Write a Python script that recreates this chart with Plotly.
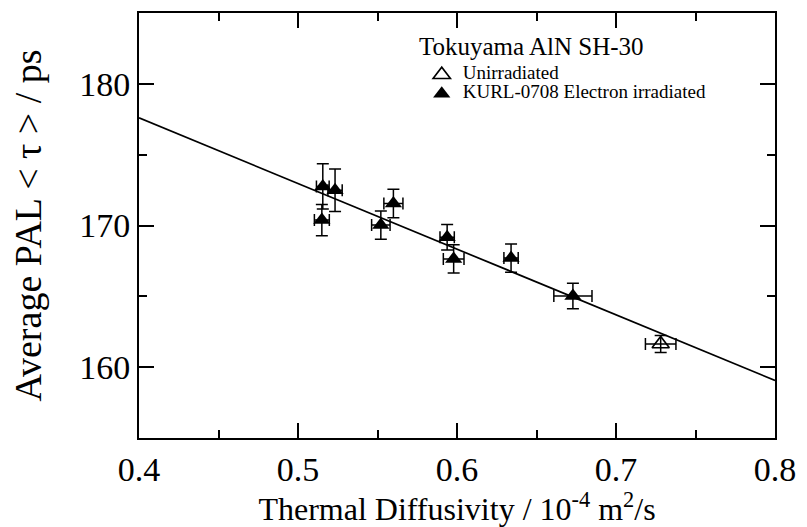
import plotly.graph_objects as go

# Electron-irradiated samples (KURL-0708)
irr_diffusivity = [0.5156, 0.5233, 0.5150, 0.5521, 0.5600, 0.5938, 0.5979, 0.6340, 0.6729]
irr_diffusivity_err = [0.0040, 0.0045, 0.0047, 0.0058, 0.0060, 0.0045, 0.0065, 0.0045, 0.0120]
irr_tau = [172.76, 172.48, 170.38, 170.03, 171.55, 169.17, 167.64, 167.70, 165.02]
irr_tau_err = [1.6, 1.5, 1.1, 1.0, 1.0, 0.9, 1.0, 1.0, 0.9]

# Unirradiated reference sample
unirr_diffusivity = [0.7281]
unirr_diffusivity_err = [0.0096]
unirr_tau = [161.64]
unirr_tau_err = [0.6]

# Linear fit through the data
fit_x = [0.4, 0.8]
fit_y = [177.6, 159.06]

SERIF = "Liberation Serif"


def entry(label):
    # legend rows stay compact: row height follows the legend font, text is enlarged
    return f'<span style="font-size:19px">{label}</span>'


fig = go.Figure()

fig.add_trace(go.Scatter(
    x=fit_x, y=fit_y, mode="lines",
    line=dict(color="black", width=1.7),
    showlegend=False, hoverinfo="skip",
))

fig.add_trace(go.Scatter(
    x=unirr_diffusivity, y=unirr_tau, mode="markers",
    name=entry("Unirradiated"),
    marker=dict(symbol="triangle-up-open", size=15, color="black",
                line=dict(width=1.6, color="black")),
    error_x=dict(type="data", array=unirr_diffusivity_err, color="black",
                 thickness=1.5, width=6),
    error_y=dict(type="data", array=unirr_tau_err, color="black",
                 thickness=1.5, width=6),
))

fig.add_trace(go.Scatter(
    x=irr_diffusivity, y=irr_tau, mode="markers",
    name=entry("KURL-0708 Electron irradiated"),
    marker=dict(symbol="triangle-up", size=15, color="black"),
    error_x=dict(type="data", array=irr_diffusivity_err, color="black",
                 thickness=1.5, width=6),
    error_y=dict(type="data", array=irr_tau_err, color="black",
                 thickness=1.5, width=6),
))

axis_common = dict(
    showline=True, linecolor="black", linewidth=2, mirror="ticks",
    ticks="inside", ticklen=15, tickwidth=1.5, tickcolor="black",
    showgrid=False, zeroline=False,
    tickfont=dict(family=SERIF, size=34, color="black"),
)

fig.update_xaxes(
    range=[0.4, 0.8], tickvals=[0.4, 0.5, 0.6, 0.7, 0.8],
    ticktext=["0.4", "0.5", "0.6", "0.7", "0.8"],
    minor=dict(tickvals=[0.45, 0.55, 0.65, 0.75], ticklen=8, tickwidth=1.5,
               ticks="inside", tickcolor="black"),
    title=dict(text="Thermal Diffusivity / 10<sup>-4</sup> m<sup>2</sup>/s",
               font=dict(family=SERIF, size=32, color="black"), standoff=6),
    **axis_common,
)
fig.update_yaxes(
    range=[155, 185], tickvals=[160, 170, 180],
    minor=dict(tickvals=[165, 175], ticklen=8, tickwidth=1.5,
               ticks="inside", tickcolor="black"),
    title=dict(text="Average PAL &lt; τ &gt; / ps",
               font=dict(family=SERIF, size=38, color="black"), standoff=26),
    **axis_common,
)

fig.add_annotation(
    text="Tokuyama AlN SH-30", xref="paper", yref="paper",
    x=0.437, y=0.92, xanchor="left", yanchor="middle", showarrow=False,
    font=dict(family=SERIF, size=25, color="black"),
)

fig.update_layout(
    width=807, height=527,
    margin=dict(l=139, r=27, t=11, b=87),
    paper_bgcolor="white", plot_bgcolor="white",
    font=dict(family=SERIF, color="black"),
    legend=dict(
        x=0.443, y=0.889, xanchor="left", yanchor="top",
        bgcolor="rgba(0,0,0,0)",
        font=dict(family=SERIF, size=12, color="black"),
        tracegroupgap=0, itemwidth=32,
    ),
)

fig.write_html("out.html")
